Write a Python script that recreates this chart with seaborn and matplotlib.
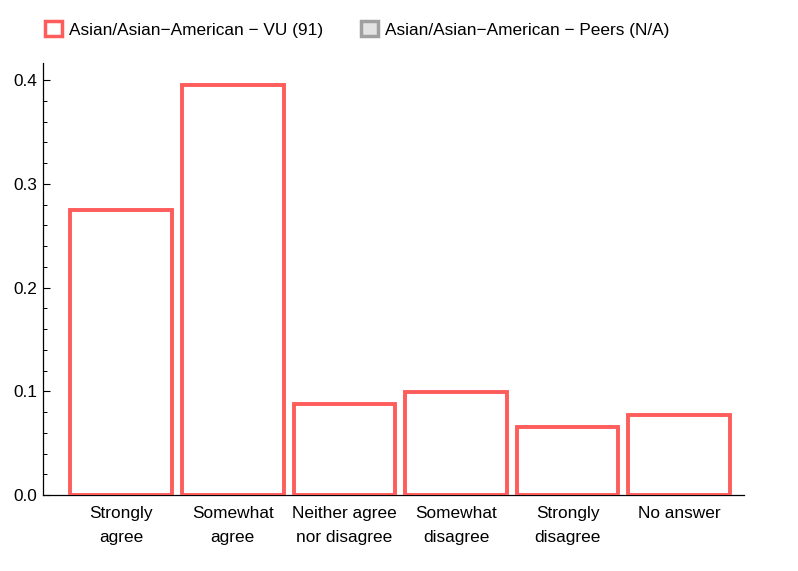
import matplotlib
matplotlib.use("Agg")
import matplotlib.pyplot as plt
from matplotlib.patches import Patch
from matplotlib.ticker import MultipleLocator
import seaborn as sns
import pandas as pd

categories = ["Strongly\nagree", "Somewhat\nagree", "Neither agree\nnor disagree",
              "Somewhat\ndisagree", "Strongly\ndisagree", "No answer"]
vu_values = [0.2747, 0.3956, 0.0879, 0.0989, 0.0659, 0.0769]
legend_labels = ["Asian/Asian\u2212American \u2212 VU (91)", "Asian/Asian\u2212American \u2212 Peers (N/A)"]
yticks = [0.0, 0.1, 0.2, 0.3, 0.4]

sns.set_style("ticks")
plt.rcParams['font.family'] = ['Liberation Sans', 'DejaVu Sans']
plt.rcParams['text.color'] = 'black'
plt.rcParams['xtick.color'] = 'black'
plt.rcParams['ytick.color'] = 'black'

red = "#ff5c5c"
FS = 12.4
df = pd.DataFrame({"cat": categories, "val": vu_values})

fig = plt.figure(figsize=(7.98, 5.71), dpi=100)
ax = fig.add_axes([43/798, 1-495/571, (744-43)/798, (495-63)/571])
sns.barplot(data=df, x="cat", y="val", ax=ax, color="white", edgecolor=red,
            linewidth=2.8, width=0.91, saturation=1)
for p in ax.patches:
    p.set_facecolor("white")
    p.set_edgecolor(red)

ax.set_xlim(-0.70, 5.58)
ax.set_ylim(0, 0.4164)
ax.set_yticks(yticks)
ax.set_yticklabels([f"{v:.1f}" for v in yticks])
ax.yaxis.set_minor_locator(MultipleLocator(0.02))
ax.set_xlabel("")
ax.set_ylabel("")
for s in ["top", "right"]:
    ax.spines[s].set_visible(False)
for s in ["left", "bottom"]:
    ax.spines[s].set_linewidth(0.9)
    ax.spines[s].set_color("black")
    ax.spines[s].set_zorder(0.5)
ax.tick_params(axis="y", which="major", direction="in", length=5, width=0.8, labelsize=FS,
               pad=4, colors="black")
ax.tick_params(axis="y", which="minor", direction="in", length=3, width=0.7, colors="black")
ax.tick_params(axis="x", which="major", direction="in", length=3, width=0.7, labelsize=FS,
               pad=8, colors="black")
for lab in ax.get_xticklabels():
    lab.set_linespacing(1.75)

handles = [Patch(facecolor="white", edgecolor=red, linewidth=2.5),
           Patch(facecolor="#e3e3e3", edgecolor="#a0a0a0", linewidth=2.5)]
fig.legend(handles, legend_labels, loc="upper left", bbox_to_anchor=(45/798, 1-21/571),
           ncol=2, frameon=False, fontsize=FS, handlelength=1.0, handleheight=1.0,
           handletextpad=0.4, columnspacing=2.2, borderpad=0, borderaxespad=0)

fig.savefig("out.png", dpi=100)
